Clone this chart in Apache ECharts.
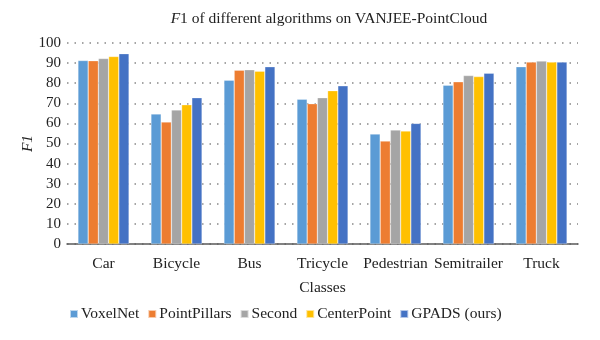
<!DOCTYPE html>
<html><head><meta charset="utf-8">
<script src="https://cdn.jsdelivr.net/npm/echarts@6/dist/echarts.min.js"></script>
<style>html,body{margin:0;padding:0;background:#fff}#c{width:600px;height:340px}</style>
</head><body><div id="c"></div>
<script>
const categories = ['Car','Bicycle','Bus','Tricycle','Pedestrian','Semitrailer','Truck'];
const voxelNet     = [91.3, 64.7, 81.5, 72.0, 54.7, 79.0, 88.2];
const pointPillars = [91.2, 60.7, 86.5, 69.8, 51.2, 80.7, 90.5];
const second       = [92.3, 66.7, 86.7, 72.8, 56.7, 83.8, 91.0];
const centerPoint  = [93.3, 69.3, 86.0, 76.3, 56.2, 83.3, 90.5];
const gpads        = [94.7, 72.8, 88.2, 78.7, 60.0, 85.0, 90.5];
const seriesNames = ['VoxelNet','PointPillars','Second','CenterPoint','GPADS (ours)'];
const seriesData = [voxelNet, pointPillars, second, centerPoint, gpads];
const colors = ['#5B9BD5','#ED7D31','#A5A5A5','#FFC000','#4472C4'];
const font = 'Liberation Serif';

const chart = echarts.init(document.getElementById('c'));
chart.setOption({
  animation: false,
  color: colors,
  textStyle: {fontFamily: font},
  title: {
    text: '{i|F}1 of different algorithms on VANJEE-PointCloud',
    left: 324, top: 6, textAlign: 'center',
    textStyle: {fontFamily: font, fontSize: 15.5, fontWeight: 'normal', color: '#222',
      rich: {i: {fontFamily: font, fontStyle: 'italic', fontSize: 15.5, color: '#222'}}}
  },
  legend: {
    top: 301, left: 64,
    itemWidth: 8, itemHeight: 8, itemGap: 8, icon: 'rect',
    textStyle: {fontFamily: font, fontSize: 15.5, color: '#222', padding: [0,0,0,-2]},
    data: seriesNames
  },
  grid: {left: 67, right: 22, top: 43, bottom: 96},
  xAxis: {
    type: 'category', data: categories,
    name: 'Classes', nameLocation: 'middle', nameGap: 36,
    nameTextStyle: {fontFamily: font, fontSize: 15.5, color: '#222'},
    axisLine: {lineStyle: {color: '#595959', width: 1.5}},
    axisTick: {show: false},
    axisLabel: {fontFamily: font, fontSize: 15.5, color: '#222', margin: 12, interval: 0}
  },
  yAxis: {
    type: 'value', min: 0, max: 100, interval: 10,
    name: 'F1', nameLocation: 'middle', nameGap: 31, nameRotate: 90,
    nameMoveOverlap: false,
    nameTextStyle: {fontFamily: font, fontSize: 15.5, fontStyle: 'italic', color: '#222'},
    axisLine: {show: false}, axisTick: {show: false},
    axisLabel: {fontFamily: font, fontSize: 15, color: '#222', margin: 6},
    splitLine: {lineStyle: {color: '#888', type: [1.5, 6], width: 1.5}}
  },
  series: seriesData.map((d, i) => ({
    name: seriesNames[i], type: 'bar', data: d,
    barGap: '0%', barCategoryGap: '30%',
    itemStyle: {borderColor: 'rgba(255,255,255,0.6)', borderWidth: 0.5}
  }))
});
</script></body></html>
